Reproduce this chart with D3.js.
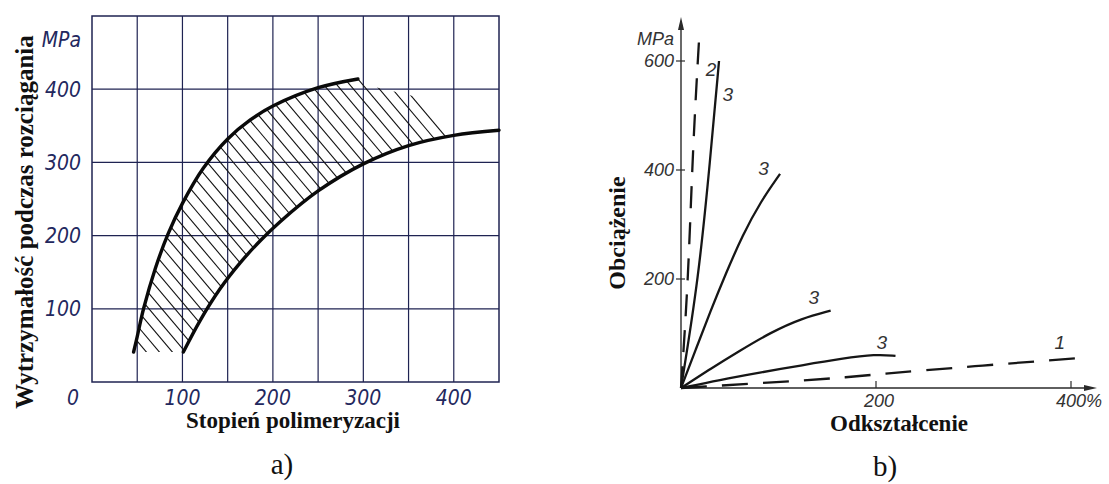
<!DOCTYPE html>
<html>
<head>
<meta charset="utf-8">
<script src="https://cdn.jsdelivr.net/npm/d3@7"></script>
<style>
    body { margin: 0; background: #fff; }
    svg { display: block; }
    .tickA { font-family: "Liberation Sans Narrow", "DejaVu Sans Condensed", "Liberation Sans", sans-serif; font-style: italic; font-size: 21px; fill: #23285e; }
    .tickB { font-family: "Liberation Sans", Arial, sans-serif; font-style: italic; font-size: 18px; fill: #333; }
    .title { font-family: "Liberation Serif", "Times New Roman", serif; font-weight: bold; fill: #111; }
    .caption { font-family: "Liberation Serif", "Times New Roman", serif; font-size: 29px; fill: #111; }
</style>
</head>
<body>
<div id="chart"></div>
<script>
// a) tensile strength vs degree of polymerization
const upperX = [46, 50, 57, 70, 84, 100, 123, 150, 175, 200, 250, 294];
const upperY = [41, 62, 100, 155, 202, 244, 292, 332, 358, 377, 402, 414];
const lowerX = [101, 120, 142, 164, 186, 208, 250, 300, 350, 400, 450];
const lowerY = [41, 85, 128, 163, 193, 219, 261, 298, 323, 337, 344];
// right end of the hatching, past the end of the upper curve
const hatchTopX = [316, 340, 364, 400];
const hatchTopY = [402, 395, 388, 337];
const xTicksA = [100, 200, 300, 400];
const yTicksA = [100, 200, 300, 400];

// b) load vs strain
const curvesB = [
    { name: "2", dashed: true, x: [0, 7.5, 12, 18.7], y: [0, 200, 437, 645] },
    { name: "3", dashed: false, x: [0, 18, 30, 39], y: [0, 200, 420, 600] },
    { name: "3", dashed: false, x: [0, 15, 30, 46, 63, 82, 101.6], y: [0, 70, 140, 210, 280, 343, 393] },
    { name: "3", dashed: false, x: [0, 31, 60, 92, 124, 153.5], y: [0, 36, 68, 102, 128, 142] },
    { name: "3", dashed: false, x: [0, 40, 80, 125, 165, 200, 220], y: [0, 15, 28, 42, 54, 62, 59] },
    { name: "1", dashed: true, x: [0, 100, 160, 200, 300, 409], y: [0, 11, 18, 25, 40, 55] },
];
const labelX = [30.7, 48, 84.6, 136.3, 206, 388.5];
const labelY = [585, 539, 404, 166, 84, 84];
const xTicksB = [200, 400];
const yTicksB = [200, 400, 600];

const svg = d3.select("#chart")
    .append("svg")
    .attr("width", 1109)
    .attr("height", 484);

svg.append("rect").attr("width", 1109).attr("height", 484).attr("fill", "#fff");

// ---------- chart a ----------
const xA = d3.scaleLinear().domain([0, 450]).range([92, 499]);
const yA = d3.scaleLinear().domain([0, 500]).range([382, 16]);
const gridColor = "#1f2352";

const gA = svg.append("g");

// grid
gA.append("g")
    .selectAll("line")
    .data(d3.range(50, 450, 50))
    .join("line")
    .attr("x1", (d) => xA(d)).attr("x2", (d) => xA(d))
    .attr("y1", yA(0)).attr("y2", yA(500))
    .attr("stroke", gridColor).attr("stroke-width", 1.2);

gA.append("g")
    .selectAll("line")
    .data(yTicksA)
    .join("line")
    .attr("x1", xA(0)).attr("x2", xA(450))
    .attr("y1", (d) => yA(d)).attr("y2", (d) => yA(d))
    .attr("stroke", gridColor).attr("stroke-width", 1.2);

gA.append("rect")
    .attr("x", xA(0)).attr("y", yA(500))
    .attr("width", xA(450) - xA(0)).attr("height", yA(0) - yA(500))
    .attr("fill", "none").attr("stroke", gridColor).attr("stroke-width", 1.5);

// hatched band
const upperPts = upperX.map((x, i) => [x, upperY[i]]);
const lowerPts = lowerX.map((x, i) => [x, lowerY[i]]);
const tailPts = hatchTopX.map((x, i) => [x, hatchTopY[i]]);

const curveLine = d3.line()
    .x((d) => xA(d[0]))
    .y((d) => yA(d[1]))
    .curve(d3.curveCatmullRom.alpha(0.5));

// clip = smooth upper curve + tail + smooth lower curve (reversed)
const upperD = curveLine(upperPts);
const lowerInside = lowerPts.filter((p) => p[0] <= 400);
const lowerRevD = curveLine(lowerInside.slice().reverse());
const clipD = upperD
    + tailPts.map((p) => `L${xA(p[0])},${yA(p[1])}`).join("")
    + "L" + lowerRevD.slice(1) + "Z";

svg.append("clipPath")
    .attr("id", "band")
    .append("path")
    .attr("d", clipD);

// hatch lines run down-right
const slope = 0.844;
const y0 = yA(400);
const kEnd = xA(294) - (yA(414) - y0) * slope;
const ks = [];
for (let k = kEnd; k > -400; k -= 13) ks.push(k);
for (let k = kEnd + 13; k < xA(450); k += 13) ks.push(k);

gA.append("g")
    .attr("clip-path", "url(#band)")
    .selectAll("line")
    .data(ks)
    .join("line")
    .attr("x1", (k) => k + (yA(500) - y0) * slope)
    .attr("y1", yA(500))
    .attr("x2", (k) => k + (yA(0) - y0) * slope)
    .attr("y2", yA(0))
    .attr("stroke", "#111")
    .attr("stroke-width", 1.1);

gA.append("path")
    .attr("d", upperD)
    .attr("fill", "none").attr("stroke", "#0a0a0a")
    .attr("stroke-width", 3.4).attr("stroke-linecap", "round");

gA.append("path")
    .attr("d", curveLine(lowerPts))
    .attr("fill", "none").attr("stroke", "#0a0a0a")
    .attr("stroke-width", 3.4).attr("stroke-linecap", "round");

// tick labels
gA.append("g")
    .selectAll("text")
    .data(yTicksA)
    .join("text")
    .attr("class", "tickA")
    .attr("x", 81)
    .attr("y", (d) => yA(d))
    .attr("dy", "0.36em")
    .attr("text-anchor", "end")
    .text((d) => d);

gA.append("text").attr("class", "tickA")
    .attr("x", 81).attr("y", 39).attr("dy", "0.36em")
    .attr("text-anchor", "end").text("MPa");

gA.append("g")
    .selectAll("text")
    .data(xTicksA)
    .join("text")
    .attr("class", "tickA")
    .attr("x", (d) => xA(d))
    .attr("y", 397)
    .attr("dy", "0.36em")
    .attr("text-anchor", "middle")
    .text((d) => d);

gA.append("text").attr("class", "tickA")
    .attr("x", xA(0) - 19).attr("y", 397).attr("dy", "0.36em")
    .attr("text-anchor", "middle").text("0");

gA.append("text").attr("class", "title")
    .attr("transform", "translate(33,222) rotate(-90)")
    .attr("text-anchor", "middle")
    .style("font-size", "25px")
    .text("Wytrzymałość podczas rozciągania");

gA.append("text").attr("class", "title")
    .attr("x", 293).attr("y", 428)
    .attr("text-anchor", "middle")
    .style("font-size", "23px")
    .text("Stopień polimeryzacji");

gA.append("text").attr("class", "caption")
    .attr("x", 282).attr("y", 474)
    .attr("text-anchor", "middle")
    .text("a)");

// ---------- chart b ----------
const xB = d3.scaleLinear().domain([0, 400]).range([681, 1071]);
const yB = d3.scaleLinear().domain([0, 600]).range([388, 61]);
const axisColor = "#2a2a2a";

const gB = svg.append("g");

gB.append("line")
    .attr("x1", xB(0)).attr("x2", xB(0))
    .attr("y1", yB(0)).attr("y2", 24)
    .attr("stroke", axisColor).attr("stroke-width", 1.4);
gB.append("path")
    .attr("d", `M${xB(0)},17 L${xB(0) - 3},30 L${xB(0) + 3},30 Z`)
    .attr("fill", axisColor);

gB.append("line")
    .attr("x1", xB(0)).attr("x2", 1090)
    .attr("y1", yB(0)).attr("y2", yB(0))
    .attr("stroke", axisColor).attr("stroke-width", 1.4);
gB.append("path")
    .attr("d", `M1097,${yB(0)} L1084,${yB(0) - 3} L1084,${yB(0) + 3} Z`)
    .attr("fill", axisColor);

gB.append("g")
    .selectAll("line")
    .data(yTicksB)
    .join("line")
    .attr("x1", xB(0) - 5).attr("x2", xB(0) + 4)
    .attr("y1", (d) => yB(d)).attr("y2", (d) => yB(d))
    .attr("stroke", axisColor).attr("stroke-width", 1.2);

gB.append("g")
    .selectAll("text")
    .data(yTicksB)
    .join("text")
    .attr("class", "tickB")
    .attr("x", 674)
    .attr("y", (d) => yB(d))
    .attr("dy", "0.36em")
    .attr("text-anchor", "end")
    .text((d) => d);

gB.append("text").attr("class", "tickB")
    .attr("x", 674).attr("y", 39).attr("dy", "0.36em")
    .attr("text-anchor", "end").text("MPa");

gB.append("g")
    .selectAll("line")
    .data(xTicksB)
    .join("line")
    .attr("x1", (d) => xB(d)).attr("x2", (d) => xB(d))
    .attr("y1", yB(0) - 7).attr("y2", yB(0))
    .attr("stroke", axisColor).attr("stroke-width", 1.2);

gB.append("g")
    .selectAll("text")
    .data(xTicksB)
    .join("text")
    .attr("class", "tickB")
    .attr("x", (d) => (d === 400 ? xB(d) - 15 : xB(d) + 3))
    .attr("y", 401)
    .attr("dy", "0.36em")
    .attr("text-anchor", (d) => (d === 400 ? "start" : "middle"))
    .text((d) => (d === 400 ? d + "%" : d));

const lineB = d3.line()
    .x((d) => xB(d[0]))
    .y((d) => yB(d[1]))
    .curve(d3.curveBasis);

gB.append("g")
    .selectAll("path")
    .data(curvesB)
    .join("path")
    .attr("d", (c) => lineB(c.x.map((x, i) => [x, c.y[i]])))
    .attr("fill", "none")
    .attr("stroke", "#161616")
    .attr("stroke-width", 2.3)
    .attr("stroke-dasharray", (c) => (c.dashed ? (c.name === "1" ? "26,15" : "22,14") : null));

gB.append("g")
    .selectAll("text")
    .data(curvesB)
    .join("text")
    .attr("class", "tickB")
    .style("font-size", "19px")
    .attr("x", (c, i) => xB(labelX[i]))
    .attr("y", (c, i) => yB(labelY[i]))
    .attr("dy", "0.36em")
    .attr("text-anchor", "middle")
    .text((c) => c.name);

gB.append("text").attr("class", "title")
    .attr("transform", "translate(625,233) rotate(-90)")
    .attr("text-anchor", "middle")
    .style("font-size", "24px")
    .text("Obciążenie");

gB.append("text").attr("class", "title")
    .attr("x", 899).attr("y", 431)
    .attr("text-anchor", "middle")
    .style("font-size", "23px")
    .text("Odkształcenie");

gB.append("text").attr("class", "caption")
    .attr("x", 885).attr("y", 476)
    .attr("text-anchor", "middle")
    .text("b)");
</script>
</body>
</html>
